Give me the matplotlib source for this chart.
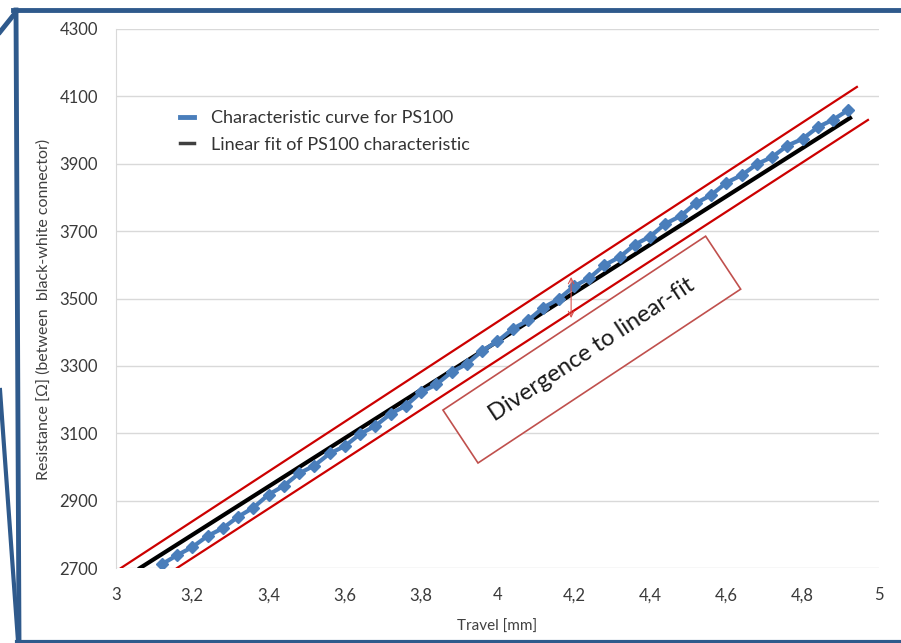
import matplotlib.pyplot as plt
from matplotlib.lines import Line2D
from matplotlib.patches import Rectangle

plt.rcParams['font.family'] = ['Lato', 'DejaVu Sans']

# measured characteristic (travel in mm, resistance in ohm)
travel = [3.12, 3.16, 3.20, 3.24, 3.28, 3.32, 3.36, 3.40, 3.44, 3.48,
          3.52, 3.56, 3.60, 3.64, 3.68, 3.72, 3.76, 3.80, 3.84, 3.88,
          3.92, 3.96, 4.00, 4.04, 4.08, 4.12, 4.16, 4.20, 4.24, 4.28,
          4.32, 4.36, 4.40, 4.44, 4.48, 4.52, 4.56, 4.60, 4.64, 4.68,
          4.72, 4.76, 4.80, 4.84, 4.88, 4.92]
resistance = [2711, 2738, 2762, 2795, 2818, 2852, 2879, 2918, 2944, 2981,
              3004, 3040, 3062, 3098, 3122, 3158, 3182, 3222, 3245, 3282,
              3306, 3345, 3373, 3410, 3435, 3473, 3498, 3536, 3560, 3599,
              3623, 3660, 3684, 3722, 3745, 3783, 3807, 3844, 3866, 3899,
              3920, 3954, 3974, 4009, 4031, 4060]

# linear fit and the hand drawn tolerance band
fit_x = [3.063, 4.924]
fit_y = [2700, 4036]
upper_x = [3.013, 4.942]
upper_y = [2700, 4128]
lower_x = [3.160, 4.971]
lower_y = [2700, 4030]
arrow_x = 4.193
arrow_y = [3442, 3564]

xticks = [3, 3.2, 3.4, 3.6, 3.8, 4, 4.2, 4.4, 4.6, 4.8, 5]
xlabels = ['3', '3,2', '3,4', '3,6', '3,8', '4', '4,2', '4,4', '4,6', '4,8', '5']
yticks = [2700, 2900, 3100, 3300, 3500, 3700, 3900, 4100, 4300]

blue = '#4a7ebb'
red = '#cc0000'
frame = '#2f5a8c'

fig = plt.figure(figsize=(9.01, 6.43), dpi=100)
ax = fig.add_axes([0.1287, 0.1166, 0.8469, 0.8383])

ax.plot(upper_x, upper_y, color=red, lw=1.6, zorder=3)
ax.plot(lower_x, lower_y, color=red, lw=1.6, zorder=3)
ax.plot(fit_x, fit_y, color='black', lw=3, zorder=4)
ax.plot(travel, resistance, color=blue, lw=3, marker='D', ms=6.5,
        zorder=5)
ax.annotate('', xy=(arrow_x, arrow_y[0]), xytext=(arrow_x, arrow_y[1]),
            arrowprops=dict(arrowstyle='<->', color='#d9534f', lw=0.8,
                            shrinkA=0, shrinkB=0, mutation_scale=10),
            zorder=6)

ax.set_xlim(3, 5)
ax.set_ylim(2700, 4300)
ax.set_xticks(xticks)
ax.set_xticklabels(xlabels)
ax.set_yticks(yticks)
ax.tick_params(axis='both', length=0, labelsize=12, labelcolor='#3a3a3a')
ax.tick_params(axis='y', pad=13)
ax.tick_params(axis='x', pad=14)
ax.grid(axis='y', color='#d9d9d9', lw=1)
ax.set_axisbelow(True)
for side in ['top', 'right', 'bottom']:
    ax.spines[side].set_visible(False)
ax.spines['left'].set_color('#d9d9d9')

ax.set_ylabel('Resistance [Ω] (between  black-white connector)',
              fontsize=11.5, color='#404040')
ax.yaxis.set_label_coords(-0.085, 0.48)
ax.set_xlabel('Travel [mm]', fontsize=11, color='#404040')
ax.xaxis.set_label_coords(0.5, -0.097)

handles = [Line2D([], [], color=blue, lw=3.5),
           Line2D([], [], color='#404040', lw=2.5)]
ax.legend(handles, ['Characteristic curve for PS100',
                    'Linear fit of PS100 characteristic'],
          loc='upper left', bbox_to_anchor=(0.084, 0.85), frameon=False,
          fontsize=13, handlelength=0.75, handletextpad=0.95,
          borderpad=0, borderaxespad=0, labelspacing=0.6,
          labelcolor='#333333')

# text box, placed in figure inches so the rotation stays square
box = Rectangle((4.78, 1.80), 3.15, 0.635, angle=33.5,
                transform=fig.dpi_scale_trans, facecolor='white',
                edgecolor='#c0504d', lw=1.2, zorder=5)
fig.add_artist(box)
fig.text(0.657, 0.4557, 'Divergence to linear-fit', fontsize=17,
         color='#1a1a1a', rotation=33.5, rotation_mode='anchor',
         ha='center', va='center', zorder=6)

# dark blue slide frame around the chart
fw, fh = 901.0, 643.0
for xs, ys, w in [([13, 901], [10, 10], 3.5),
                  ([16, 19], [10, 641], 3.5),
                  ([16, 0], [12, 32], 3.5),
                  ([0, 18], [390, 641], 3),
                  ([17, 901], [642, 642], 3)]:
    fig.add_artist(Line2D([x / fw for x in xs], [1 - y / fh for y in ys],
                          transform=fig.transFigure, color=frame, lw=w))

fig.savefig('out.png', dpi=100)
